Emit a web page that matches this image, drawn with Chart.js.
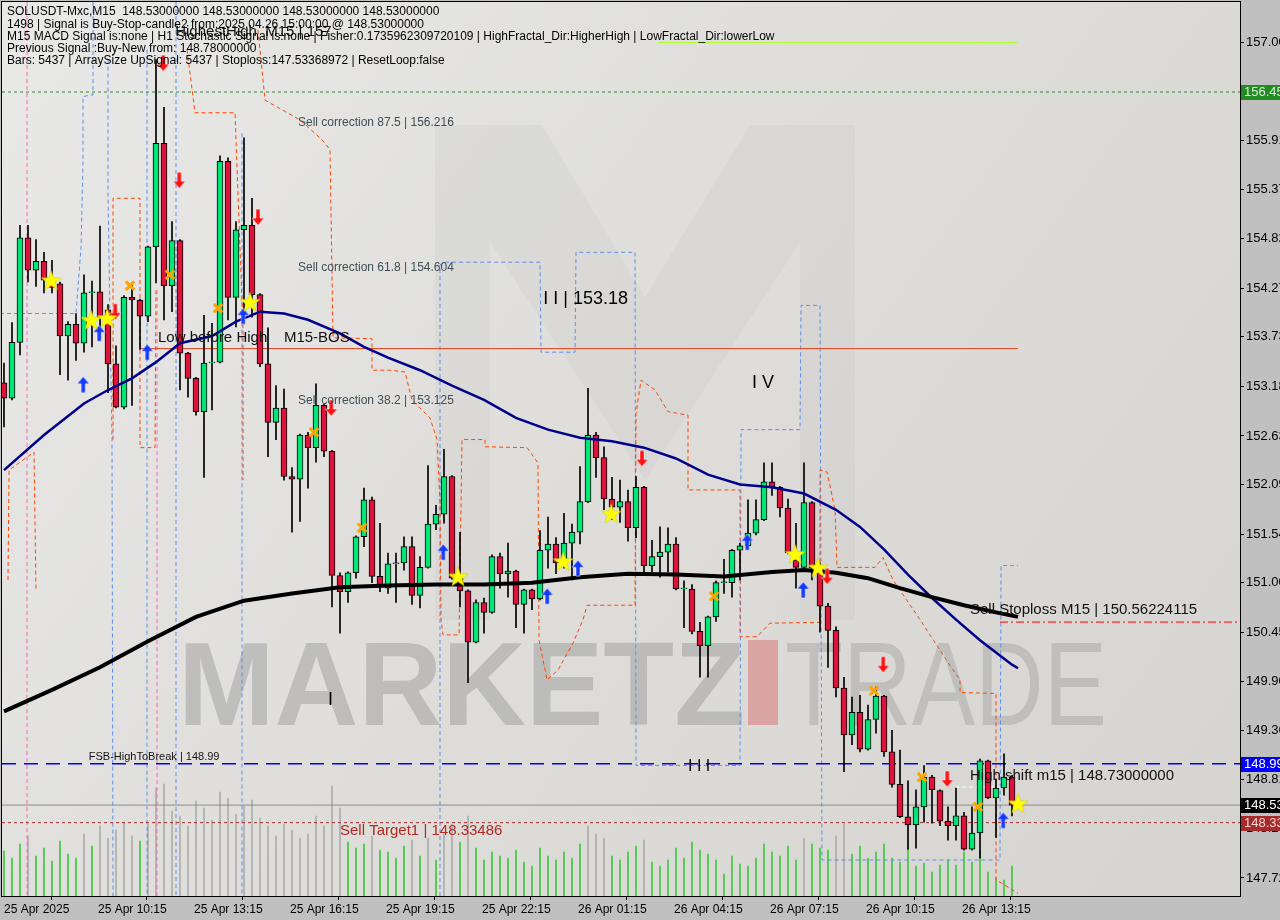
<!DOCTYPE html>
<html>
<head>
<meta charset="utf-8">
<script src="https://cdn.jsdelivr.net/npm/chart.js@4.4.1/dist/chart.umd.min.js"></script>
<style>
html, body { margin: 0; padding: 0; background: #c0c0c0; }
canvas { display: block; }
</style>
</head>
<body>
<canvas id="chart" width="1280" height="920"></canvas>
<script>
// SOLUSDT M15 candles, index 0 = 25 Apr 07:15
var opens = [
  153.22,153.05,153.67,154.83,154.47,154.57,154.36,154.32,153.74,153.87,
  153.66,154.22,154.23,154.03,153.43,152.95,154.17,154.14,153.96,154.73,
  155.88,154.30,154.80,153.55,153.27,152.90,153.44,153.45,155.68,154.17,
  154.92,154.97,154.20,153.43,152.78,152.94,152.18,152.15,152.64,152.50,
  152.97,152.46,151.08,150.90,151.11,151.51,151.92,151.07,150.94,151.21,
  151.22,151.40,150.86,151.17,151.65,151.76,152.18,151.05,150.91,150.34,
  150.78,150.67,151.29,151.10,151.13,150.76,150.92,150.82,151.36,151.43,
  151.22,151.44,151.56,151.90,152.64,152.39,151.93,151.84,151.90,151.61,
  152.06,151.19,151.29,151.34,151.43,150.93,150.93,150.46,150.30,150.62,
  151.00,151.00,151.36,151.41,151.55,151.70,152.12,152.06,151.83,151.25,
  151.17,151.89,151.16,150.74,150.47,149.83,149.31,149.56,149.15,149.48,
  149.74,149.12,148.76,148.40,148.31,148.51,148.84,148.69,148.35,148.30,
  148.41,148.04,148.22,149.02,148.61,148.72,148.84
];
var highs = [
  153.44,153.89,154.97,154.97,154.81,154.67,154.58,154.34,153.90,153.99,
  154.42,154.35,154.96,154.09,153.63,154.19,154.33,154.15,154.74,156.81,
  156.28,155.01,154.81,153.56,153.28,153.97,153.88,155.74,155.72,155.01,
  155.94,155.27,154.21,153.83,153.19,153.15,152.28,152.65,152.67,153.21,
  152.98,152.47,151.11,151.12,151.52,152.05,151.95,151.66,151.33,151.33,
  151.51,151.51,151.29,152.30,151.86,152.48,152.19,151.56,150.92,150.81,
  150.83,151.31,151.33,151.44,151.14,150.93,150.93,151.58,151.73,151.50,
  151.77,151.65,152.29,153.16,152.67,152.51,152.17,152.14,152.03,152.18,
  152.07,151.47,151.62,151.61,151.50,151.02,150.98,150.56,150.63,151.02,
  151.26,151.37,151.44,151.92,151.92,152.33,152.33,152.07,151.93,151.66,
  152.33,151.90,151.22,150.77,150.51,149.95,149.73,149.75,149.64,149.84,
  149.75,149.36,149.14,148.80,148.70,148.97,148.86,148.70,148.51,148.72,
  148.45,148.51,149.04,149.03,148.82,149.10,148.86
];
var lows = [
  152.73,153.03,153.53,154.34,154.29,154.22,154.22,153.31,153.25,153.47,
  153.56,153.62,153.81,153.11,152.94,152.93,152.97,153.59,153.90,154.33,
  153.92,154.01,153.14,153.06,152.86,152.17,152.92,153.44,153.92,153.84,
  153.92,153.95,153.40,152.40,152.59,152.14,151.56,151.68,152.05,152.34,
  152.40,150.73,150.44,150.78,151.05,151.40,151.00,150.90,150.88,150.78,
  151.14,150.76,150.72,151.16,151.59,151.66,151.04,150.73,149.89,150.33,
  150.44,150.66,150.94,150.84,150.50,150.44,150.70,150.81,151.16,151.10,
  151.16,151.03,151.43,151.89,152.17,151.81,151.70,151.67,151.46,151.50,
  151.12,151.12,151.06,151.12,150.92,150.50,150.43,149.95,149.95,150.57,
  150.88,150.84,151.03,151.40,151.53,151.69,151.97,151.73,151.32,150.94,
  151.16,151.03,150.45,150.06,149.73,148.90,149.20,149.12,149.14,149.33,
  149.07,148.73,148.39,148.04,148.05,148.34,148.33,148.30,148.14,148.14,
  148.03,148.03,147.94,148.60,148.17,148.64,148.41
];
var closes = [
  153.05,153.67,154.83,154.47,154.57,154.36,154.28,153.74,153.87,153.66,
  154.22,154.23,153.95,153.43,152.95,154.17,154.14,153.96,154.73,155.88,
  154.30,154.80,153.55,153.27,152.90,153.44,153.45,155.68,154.17,154.92,
  154.97,154.20,153.43,152.78,152.94,152.18,152.15,152.64,152.50,152.97,
  152.46,151.08,150.90,151.11,151.51,151.92,151.07,150.95,151.21,151.22,
  151.40,150.86,151.17,151.65,151.76,152.18,151.05,150.91,150.34,150.78,
  150.67,151.29,151.10,151.13,150.76,150.92,150.82,151.36,151.43,151.22,
  151.44,151.56,151.90,152.64,152.39,151.93,151.84,151.90,151.61,152.06,
  151.19,151.29,151.34,151.43,150.93,150.94,150.46,150.30,150.62,151.00,
  151.01,151.36,151.41,151.55,151.70,152.12,152.06,151.83,151.33,151.17,
  151.89,151.16,150.74,150.47,149.83,149.31,149.56,149.15,149.48,149.74,
  149.12,148.76,148.40,148.31,148.51,148.84,148.70,148.35,148.30,148.41,
  148.04,148.22,149.02,148.61,148.72,148.84,148.53
];
var volumes = [
  45,38,52,60,40,48,35,55,42,38,62,50,70,58,66,74,
  60,55,72,108,112,85,80,70,95,88,76,104,98,82,90,96,
  78,70,60,72,66,58,62,80,70,110,88,54,48,52,60,46,
  44,38,50,56,40,58,36,62,72,54,80,48,36,44,40,38,
  46,34,30,48,40,36,44,38,52,70,62,58,40,36,44,50,
  56,34,30,36,48,38,54,46,42,36,22,40,32,30,38,52,
  44,40,50,36,58,52,48,46,60,72,42,50,38,44,52,38,
  34,48,30,33,24,31,36,31,44,34,45,24,18,16,30
];

// moving averages, read at a subset of bars
var blueMaIdx = [0,5,10,13,16,19,22,26,29,32,35,38,42,45,48,52,56,60,64,68,72,76,80,84,88,92,96,100,104,107,110,113,116,119,122,126,126.75];
var blueMaVal = [152.25,152.64,152.99,153.14,153.27,153.45,153.66,153.74,153.90,154.01,153.99,153.92,153.77,153.62,153.50,153.36,153.19,153.03,152.83,152.70,152.61,152.57,152.50,152.38,152.20,152.09,152.06,151.99,151.81,151.62,151.37,151.09,150.83,150.59,150.36,150.09,150.05];
var blackMaIdx = [0,6,12,18,24,30,36,42,48,54,60,66,72,78,84,90,96,100,104,108,112,116,120,124,126.75];
var blackMaVal = [149.57,149.81,150.06,150.35,150.62,150.80,150.88,150.95,150.97,150.98,150.98,151.00,151.06,151.10,151.09,151.07,151.12,151.14,151.11,151.05,150.94,150.84,150.75,150.67,150.62];

// stepped band indicators [bar index, price], null breaks the line
var orangeBand = [
  [0.5,151.03],[0.63,152.25],[3.75,152.45],[4,150.92],[4,null],
  [13.63,152.59],[13.63,155.27],[17,155.27],[17,152.50],[18.88,152.50],[19,154.25],[19,null],
  [22.88,156.92],[23.88,156.22],[28.88,156.22],[29,155.92],[29.88,153.81],[29.88,152.14],[29.88,null],
  [31.75,157.14],[32.63,156.36],[37,156.14],[39.75,155.92],[40.75,155.81],[41.13,153.72],[46,153.71],
  [46,153.36],[48.25,153.36],[50.13,153.34],[51,153.03],[53.25,152.83],[54.13,152.59],[54.5,151.89],
  [54.63,150.59],[54.88,150.42],[56.88,150.42],[57.25,152.59],[60.13,152.59],[60.13,152.51],[65.38,152.50],
  [66.75,152.33],[66.88,150.36],[67.88,149.92],[69.25,150.03],[71.13,150.33],[72.38,150.59],[72.88,150.75],
  [78.88,150.75],[79,152.88],[79.63,153.25],[81.38,153.14],[83,152.90],[85.5,152.86],[85.5,152.03],
  [92,152.03],[92,150.40],[94.13,150.40],[95.75,150.55],[102,150.56],[102,152.25],[102.88,152.23],
  [103.88,151.81],[104.13,151.17],[108.88,151.17],[109.88,151.28],[111.13,151.03],[114.5,150.59],
  [118.25,150.08],[119.5,149.92],[119.5,149.78],[124,149.77],[124,147.70],[126.75,147.55]
];
var blueBand = [
  [-0.5,153.99],[9,153.99],[9.13,154.14],[9.63,154.73],[9.88,155.70],[9.88,156.40],[11.13,156.42],[11.13,157.45],[11.13,null],
  [13,156.81],[13,155.33],[13.25,153.92],[13.5,152.59],[13.63,147.52],[13.63,null],
  [17.88,156.92],[17.88,147.52],[17.88,null],
  [21.5,157.45],[21.5,147.52],[21.5,null],
  [29.75,155.99],[29.75,147.52],[29.75,null],
  [54.5,147.52],[54.5,154.53],[55.13,154.56],[67,154.56],[67.13,153.56],[71.38,153.56],[71.5,154.67],
  [78.88,154.67],[79,148.97],[92,148.97],[92.13,152.70],[99.5,152.70],[99.63,154.08],[102,154.08],
  [102.25,147.92],[124.5,147.92],[124.63,151.19],[126.75,151.19]
];
var pinkBand = [[2.88,157.45],[2.88,147.52],[2.88,null],[19.13,154.25],[19.13,147.52]];

// signal markers [bar index, price]
var starPts = [[5.9,154.36],[10.9,153.92],[12.9,153.94],[30.75,154.12],[56.75,151.07],[69.9,151.24],[75.9,151.77],[98.9,151.32],[101.75,151.17],[126.75,148.55]];
var crossPts = [[15.75,154.30],[20.75,154.42],[26.75,154.05],[38.75,152.67],[44.75,151.61],[88.75,150.85],[108.75,149.80],[114.75,148.84],[121.75,148.51]];
var upArrowPts = [[9.9,153.20],[11.9,153.77],[17.9,153.56],[29.9,153.96],[54.9,151.34],[67.9,150.85],[71.75,151.16],[92.9,151.45],[99.9,150.92],[124.9,148.36]];
var downArrowPts = [[13.9,154.01],[19.9,156.77],[21.9,155.47],[31.75,155.06],[40.9,152.94],[79.75,152.38],[102.9,151.07],[109.9,150.09],[117.9,148.82]];

// price levels
var levelHighest = 157.0;
var levelFibTop = 156.45;
var levelBos = 153.60;
var levelStop = 150.56224115;
var levelFsb = 148.99;
var levelShift = 148.73;
var levelLast = 148.53;
var levelTarget = 148.33486;

// axes
var yTickVals = [157.00,156.45,155.91,155.37,154.82,154.27,153.73,153.18,152.63,152.09,151.54,151.00,150.45,149.90,149.36,148.81,148.27,147.72];
var xTickVals = [0,11.75,23.75,35.75,47.75,59.75,71.75,83.75,95.75,107.75,119.75];
var xTickLabels = ['25 Apr 2025','25 Apr 10:15','25 Apr 13:15','25 Apr 16:15','25 Apr 19:15','25 Apr 22:15','26 Apr 01:15','26 Apr 04:15','26 Apr 07:15','26 Apr 10:15','26 Apr 13:15'];

var headerLines = [
  'SOLUSDT-Mxc,M15  148.53000000 148.53000000 148.53000000 148.53000000',
  '1498 | Signal is Buy-Stop-candle2 from:2025.04.26 15:00:00 @ 148.53000000',
  'M15 MACD Signal is:none | H1 Stochastic Signal is:none | Fisher:0.1735962309720109 | HighFractal_Dir:HigherHigh | LowFractal_Dir:lowerLow',
  'Previous Signal :Buy-New from: 148.78000000',
  'Bars: 5437 | ArraySize UpSignal: 5437 | Stoploss:147.53368972 | ResetLoop:false'
];

var notes = [
  { i: 36.75, p: 156.11, text: 'Sell correction 87.5 | 156.216', size: 12, color: '#3f4f55' },
  { i: 36.75, p: 154.50, text: 'Sell correction 61.8 | 154.604', size: 12, color: '#3f4f55' },
  { i: 36.75, p: 153.02, text: 'Sell correction 38.2 | 153.125', size: 12, color: '#3f4f55' },
  { i: 67.4, p: 154.15, text: 'I I | 153.18', size: 18, color: '#000' },
  { i: 93.5, p: 153.22, text: 'I V', size: 18, color: '#000' },
  { i: 40.5, p: 149.70, text: 'I', size: 18, color: '#000' },
  { i: 85.5, p: 148.96, text: 'I I I', size: 16, color: '#000' },
  { i: 19.25, p: 153.72, text: 'Low before High    M15-BOS', size: 15, color: '#111' },
  { i: 21.4, p: 157.12, text: 'HighestHigh  M15 | 157', size: 15, color: '#111' },
  { i: 10.6, p: 149.06, text: 'FSB-HighToBreak | 148.99', size: 11, color: '#111' },
  { i: 42, p: 148.24, text: 'Sell Target1 | 148.33486', size: 15, color: '#b22a22' },
  { i: 120.75, p: 150.70, text: 'Sell Stoploss M15 | 150.56224115', size: 15, color: '#111' },
  { i: 120.75, p: 148.86, text: 'High shift m15 | 148.73000000', size: 15, color: '#111' }
];

var priceBoxes = [
  { p: levelFibTop, bg: '#228b22', fg: '#d8ecd8', text: '156.45' },
  { p: levelFsb, bg: '#0000ff', fg: '#ffffff', text: '148.99' },
  { p: levelLast, bg: '#000000', fg: '#ffffff', text: '148.53' },
  { p: levelTarget, bg: '#a52a2a', fg: '#f2d6d6', text: '148.33' }
];

var FONT = '"Liberation Sans", Arial, sans-serif';
var X_MIN = -0.25, X_MAX = 154.5;

function pairs(list) {
  return list.map(function(q) { return { x: q[0], y: q[1] }; });
}
function hline(price, from, to) {
  return [{ x: from, y: price }, { x: to, y: price }];
}

function starImage() {
  var c = document.createElement('canvas');
  c.width = 22; c.height = 22;
  var g = c.getContext('2d');
  g.beginPath();
  for (var k = 0; k < 10; k++) {
    var r = k % 2 ? 4.2 : 10.5;
    var a = -Math.PI / 2 + k * Math.PI / 5;
    g.lineTo(11 + r * Math.cos(a), 12 + r * Math.sin(a));
  }
  g.closePath();
  g.fillStyle = '#ffff00';
  g.fill();
  g.strokeStyle = 'rgba(200,200,0,0.8)';
  g.lineWidth = 0.6;
  g.stroke();
  return c;
}
function arrowImage(color, down) {
  var c = document.createElement('canvas');
  c.width = 14; c.height = 18;
  var g = c.getContext('2d');
  if (down) { g.translate(0, 18); g.scale(1, -1); }
  g.beginPath();
  g.moveTo(7, 1); g.lineTo(13, 8); g.lineTo(9, 8); g.lineTo(9, 17);
  g.lineTo(5, 17); g.lineTo(5, 8); g.lineTo(1, 8); g.closePath();
  g.fillStyle = color;
  g.fill();
  g.strokeStyle = 'rgba(255,255,255,0.6)';
  g.lineWidth = 0.8;
  g.stroke();
  return c;
}

var idx = opens.map(function(_, i) { return i; });
var wickData = idx.map(function(i) { return { x: i, y: [lows[i], highs[i]] }; });
var bodyData = idx.map(function(i) { return { x: i, y: [opens[i], closes[i]] }; });
var bodyColors = idx.map(function(i) { return closes[i] >= opens[i] ? '#00e676' : '#dc143c'; });
var volData = idx.map(function(i) { return { x: i, y: volumes[i] }; });
var volColors = volumes.map(function(v) { return v > 55 ? '#adadad' : '#3cc83c'; });

function lineDs(data, color, width, dash, order) {
  return {
    type: 'line', data: data, borderColor: color, borderWidth: width,
    borderDash: dash || [], pointRadius: 0, tension: 0, spanGaps: false,
    fill: false, order: order, yAxisID: 'y'
  };
}
function markerDs(data, style, extra) {
  var ds = {
    type: 'line', data: pairs(data), showLine: false, pointStyle: style,
    pointRadius: 6, order: 0, yAxisID: 'y'
  };
  for (var k in extra) ds[k] = extra[k];
  return ds;
}

var backgroundPlugin = {
  id: 'background',
  beforeDraw: function(chart) {
    var ctx = chart.ctx, a = chart.chartArea;
    ctx.save();
    ctx.fillStyle = '#c0c0c0';
    ctx.fillRect(0, 0, chart.width, chart.height);
    var grad = ctx.createLinearGradient(a.left, a.top, a.right, a.bottom);
    grad.addColorStop(0, '#e9e9e8');
    grad.addColorStop(0.45, '#dfdedb');
    grad.addColorStop(1, '#d6d4d0');
    ctx.fillStyle = grad;
    ctx.fillRect(a.left, a.top, a.right - a.left, a.bottom - a.top);
    ctx.restore();
  },
  beforeDatasetsDraw: function(chart) {
    var ctx = chart.ctx, a = chart.chartArea;
    var L = a.left, T = a.top;
    ctx.save();
    // logo watermark
    ctx.fillStyle = 'rgba(175,175,175,0.13)';
    ctx.beginPath();
    ctx.moveTo(L + 433, T + 123); ctx.lineTo(L + 540, T + 123); ctx.lineTo(L + 643, T + 295);
    ctx.lineTo(L + 748, T + 123); ctx.lineTo(L + 853, T + 123); ctx.lineTo(L + 853, T + 618);
    ctx.lineTo(L + 798, T + 618); ctx.lineTo(L + 798, T + 240); ctx.lineTo(L + 643, T + 478);
    ctx.lineTo(L + 488, T + 240); ctx.lineTo(L + 488, T + 618); ctx.lineTo(L + 433, T + 618);
    ctx.closePath();
    ctx.fill();
    // MARKETZ | TRADE
    ctx.textBaseline = 'alphabetic';
    ctx.font = 'bold 118px ' + FONT;
    var w1 = ctx.measureText('MARKETZ').width;
    ctx.save();
    ctx.translate(L + 176, T + 723);
    ctx.scale(567 / w1, 1);
    ctx.fillStyle = 'rgba(140,140,140,0.4)';
    ctx.fillText('MARKETZ', 0, 0);
    ctx.restore();
    ctx.fillStyle = 'rgba(215,110,110,0.5)';
    ctx.fillRect(L + 746, T + 638, 30, 85);
    ctx.font = '118px ' + FONT;
    var w2 = ctx.measureText('TRADE').width;
    ctx.save();
    ctx.translate(L + 783, T + 723);
    ctx.scale(322 / w2, 1);
    ctx.fillStyle = 'rgba(150,150,150,0.38)';
    ctx.fillText('TRADE', 0, 0);
    ctx.restore();
    ctx.restore();
  },
  afterDatasetsDraw: function(chart) {
    var ctx = chart.ctx, xs = chart.scales.x, ys = chart.scales.y;
    ctx.save();
    ctx.textBaseline = 'middle';
    ctx.textAlign = 'left';
    notes.forEach(function(n) {
      ctx.font = n.size + 'px ' + FONT;
      ctx.fillStyle = n.color;
      ctx.fillText(n.text, xs.getPixelForValue(n.i), ys.getPixelForValue(n.p));
    });
    ctx.restore();
  },
  afterDraw: function(chart) {
    var ctx = chart.ctx, a = chart.chartArea, ys = chart.scales.y;
    ctx.save();
    ctx.strokeStyle = '#000';
    ctx.lineWidth = 1;
    ctx.strokeRect(a.left - 0.5, a.top - 0.5, a.right - a.left + 1, a.bottom - a.top + 1);
    ctx.font = '12px ' + FONT;
    ctx.textBaseline = 'middle';
    ctx.fillStyle = '#000';
    headerLines.forEach(function(t, k) { ctx.fillText(t, 7, 12 + k * 12.2); });
    ctx.font = '13px ' + FONT;
    priceBoxes.forEach(function(b) {
      var y = Math.round(ys.getPixelForValue(b.p));
      ctx.fillStyle = b.bg;
      ctx.fillRect(a.right + 1, y - 7, chart.width - a.right, 15);
      ctx.fillStyle = b.fg;
      ctx.fillText(b.text, a.right + 4, y + 0.5);
    });
    ctx.restore();
  }
};

var datasets = [
  { type: 'bar', data: volData, backgroundColor: volColors, barThickness: 1, grouped: false, yAxisID: 'yv', order: 20 },
  lineDs(pairs(pinkBand), '#ff69b4', 1, [4, 3], 15),
  lineDs(pairs(blueBand), '#5a8ef0', 1, [4, 3], 14),
  lineDs(pairs(orangeBand), '#ff4500', 1, [4, 3], 13),
  lineDs(hline(levelFibTop, X_MIN, X_MAX), '#2e8b2e', 1, [3, 3], 12),
  lineDs(hline(levelHighest, 81.75, 126.75), '#adff2f', 1, [], 12),
  lineDs(hline(levelBos, 17, 126.75), '#e0401a', 1, [], 12),
  lineDs(hline(levelStop, 124.5, X_MAX), '#ff0000', 1, [8, 3, 2, 3], 12),
  lineDs(hline(levelFsb, X_MIN, X_MAX), '#0000ff', 1.5, [14, 8], 12),
  lineDs(hline(levelLast, X_MIN, X_MAX), '#8c8c8c', 1, [], 12),
  lineDs(hline(levelTarget, X_MIN, X_MAX), '#a52a2a', 1, [3, 3], 12),
  lineDs(hline(levelShift, 118.9, 126.75), '#ffffff', 1, [4, 3], 12),
  { type: 'bar', data: wickData, backgroundColor: '#000', barThickness: 1, grouped: false, yAxisID: 'y', order: 6 },
  { type: 'bar', data: bodyData, backgroundColor: bodyColors, borderColor: '#000', borderWidth: 1,
    borderSkipped: false, barThickness: 6, grouped: false, yAxisID: 'y', order: 5 },
  lineDs(pairs(blackMaIdx.map(function(v, k) { return [v, blackMaVal[k]]; })), '#000000', 4, [], 3),
  lineDs(pairs(blueMaIdx.map(function(v, k) { return [v, blueMaVal[k]]; })), '#00008b', 2.5, [], 3),
  markerDs(crossPts, 'crossRot', { pointRadius: 6, pointBorderWidth: 3, borderColor: '#ffa500', pointBorderColor: '#ffa500' }),
  markerDs(starPts, starImage(), {}),
  markerDs(upArrowPts, arrowImage('#1238ff', false), {}),
  markerDs(downArrowPts, arrowImage('#ff1010', true), {})
];

new Chart(document.getElementById('chart'), {
  type: 'bar',
  data: { datasets: datasets },
  options: {
    responsive: false,
    animation: false,
    events: [],
    layout: { autoPadding: false, padding: { left: 2, top: 2, right: 0, bottom: 0 } },
    plugins: { legend: { display: false }, tooltip: { enabled: false } },
    scales: {
      x: {
        type: 'linear', min: X_MIN, max: X_MAX, offset: false,
        afterFit: function(s) { s.height = 24; s.paddingLeft = 0; s.paddingRight = 0; },
        afterBuildTicks: function(s) { s.ticks = xTickVals.map(function(v) { return { value: v }; }); },
        grid: { drawOnChartArea: false, drawTicks: true, tickLength: 4, tickColor: '#000' },
        border: { display: true, color: '#000' },
        ticks: {
          autoSkip: false, maxRotation: 0, align: 'start', padding: 2, color: '#000',
          font: { family: FONT, size: 12 },
          callback: function(v, k) { return xTickLabels[k]; }
        }
      },
      y: {
        type: 'linear', position: 'right', min: 147.52, max: 157.45,
        afterFit: function(s) { s.width = 40; s.paddingTop = 0; s.paddingBottom = 0; },
        afterBuildTicks: function(s) { s.ticks = yTickVals.map(function(v) { return { value: v }; }); },
        grid: { drawOnChartArea: false, drawTicks: true, tickLength: 4, tickColor: '#000' },
        border: { display: true, color: '#000' },
        ticks: {
          autoSkip: false, padding: 2, color: '#000',
          font: { family: FONT, size: 13 },
          callback: function(v) { return Number(v).toFixed(2); }
        }
      },
      yv: { type: 'linear', display: false, min: 0, max: 894 }
    }
  },
  plugins: [backgroundPlugin]
});
</script>
</body>
</html>
